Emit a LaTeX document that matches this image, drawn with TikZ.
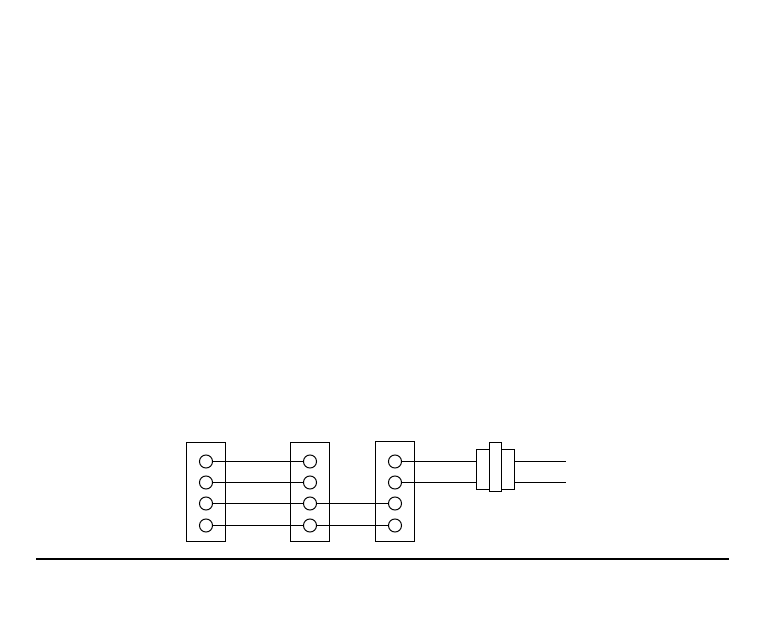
\documentclass[tikz,border=0pt]{standalone}
\tikzset{
	panel/.style={draw,line width=1pt,inner sep=0pt,outer sep=0pt,minimum width=29.25pt,minimum height=74.25pt},
	pin/.style={draw,circle,line width=0.75pt,inner sep=0pt,outer sep=0pt,minimum size=9.8pt},
	coupler/.style={draw,fill=white,line width=1pt,inner sep=0pt,outer sep=0pt},
	wire/.style={line width=1pt}
}
\begin{document}
\begin{tikzpicture}[x=0.75pt,y=-0.75pt]
	\useasboundingbox (0,0) rectangle (783,621);
	\node [panel] (panelA) at (206,492) {};
	\node [panel] (panelB) at (310,492) {};
	\node [panel,minimum height=75pt] (panelC) at (395,491.5) {};
	\foreach \n/\y in {1/461.5,2/482.5,3/503.5,4/525.5} {
		\node [pin] (pinA\n) at (206,\y) {};
		\node [pin] (pinB\n) at (310,\y) {};
		\draw [wire] (pinA\n) -- (pinB\n);
	}
	\foreach \n/\y in {1/461.5,2/482.5,3/503.5,4/525.5}
		\node [pin] (pinC\n) at (395,\y) {};
	\draw [wire] (pinB3) -- (pinC3);
	\draw [wire] (pinB4) -- (pinC4);
	% coupling on the right
	\node [coupler,minimum width=28.5pt,minimum height=30pt] (sleeve) at (495.5,469.5) {};
	\node [coupler,minimum width=9pt,minimum height=36.75pt] (collar) at (495.5,467) {};
	\coordinate (endA) at (566,461.5);
	\coordinate (endB) at (566,482.5);
	\draw [wire] (pinC1) -- (pinC1 -| sleeve.west);
	\draw [wire] (pinC2) -- (pinC2 -| sleeve.west);
	\draw [wire] (endA -| sleeve.east) -- (endA);
	\draw [wire] (endB -| sleeve.east) -- (endB);
	% base line
	\coordinate (baseL) at (36,559);
	\coordinate (baseR) at (729,559);
	\draw [line width=1.5pt] (baseL) -- (baseR);
\end{tikzpicture}
\end{document}
